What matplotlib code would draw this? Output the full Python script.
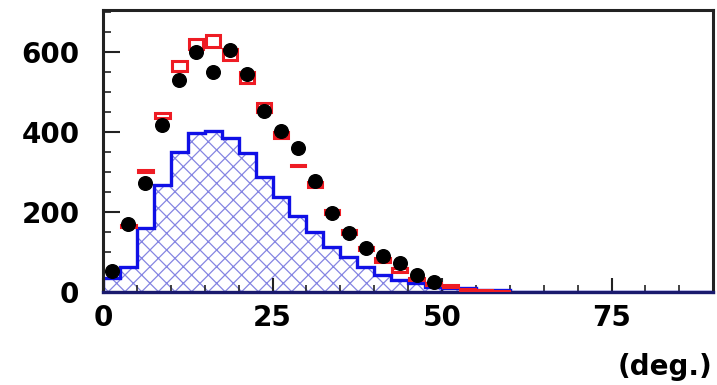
import numpy as np
import matplotlib
matplotlib.use("Agg")
import matplotlib.pyplot as plt
from matplotlib.ticker import MultipleLocator

plt.rcParams["font.family"] = ["DejaVu Sans"]
plt.rcParams["font.weight"] = "bold"
plt.rcParams["hatch.linewidth"] = 0.9

# Angular binning (degrees)
bin_width = 2.5
x_max = 90.0
bin_edges = np.arange(0.0, x_max + bin_width / 2, bin_width)
n_bins = len(bin_edges) - 1
bin_centers = 0.5 * (bin_edges[:-1] + bin_edges[1:])

# Measured counts (black points)
data_counts = [52, 170, 273, 418, 530, 600, 550, 605, 545, 452,
               402, 360, 277, 197, 148, 110, 90, 73, 43, 25]

# Simulation (red boxes): central value and half-height of the box
mc_counts = [np.nan, 165, 303, 442, 565, 620, 628, 595, 537, 462,
             392, 316, 268, 200, 150, 108, 80, 55, 32, 20,
             15, 6, 3, 2]
mc_errors = [0, 2, 2, 6, 12, 13, 14, 14, 14, 12,
             8, 2, 6, 4, 4, 4, 4, 4, 3, 3,
             2, 1, 1, 1]

# Sub-sample histogram (blue hatched)
subset_counts = [35, 62, 160, 268, 350, 397, 402, 385, 347, 288,
                 237, 191, 150, 113, 88, 63, 43, 30, 22, 13,
                 10, 10, 4, 4]

x_ticks = [0, 25, 50, 75]
x_tick_labels = ["0", "25", "50", "75"]
y_ticks = [0, 200, 400, 600]
y_tick_labels = ["0", "200", "400", "600"]

subset_full = np.zeros(n_bins)
subset_full[:len(subset_counts)] = subset_counts

fig = plt.figure(figsize=(7.17, 3.85), dpi=100)
ax = fig.add_axes([0.1437, 0.2416, 0.851, 0.732])

# hatched fill and outline of the sub-sample
ax.stairs(subset_full, bin_edges, fill=True, facecolor="white",
          edgecolor="#8585e2", hatch="xx", linewidth=0, zorder=1)
ax.stairs(subset_full, bin_edges, fill=False, edgecolor="#1010e6",
          linewidth=2.4, baseline=0, zorder=2)

# simulation error boxes
mc_vals = np.array(mc_counts, dtype=float)
mc_errs = np.array(mc_errors, dtype=float)
mc_x = bin_centers[:len(mc_vals)]
ok = ~np.isnan(mc_vals)
ax.bar(mc_x[ok], 2 * mc_errs[ok], bottom=mc_vals[ok] - mc_errs[ok],
       width=bin_width * 0.85, fill=False, edgecolor="#ee1c24",
       linewidth=2.2, zorder=3)

# data points
ax.plot(bin_centers[:len(data_counts)], data_counts, "o", color="black",
        markersize=9.8, zorder=4, clip_on=False)

ax.set_xlim(0, x_max)
ax.set_ylim(0, 705)

ax.set_xticks(x_ticks)
ax.set_xticklabels(x_tick_labels)
ax.set_yticks(y_ticks)
ax.set_yticklabels(y_tick_labels)
ax.xaxis.set_minor_locator(MultipleLocator(5))
ax.yaxis.set_minor_locator(MultipleLocator(50))

ax.tick_params(axis="both", which="both", direction="in",
               top=False, right=False, color="#222222")
ax.tick_params(axis="x", which="major", length=10, width=1.5, pad=9,
               labelsize=20)
ax.tick_params(axis="x", which="minor", length=5, width=1.2)
ax.tick_params(axis="y", which="major", length=12, width=1.5, pad=17,
               labelsize=20)
ax.tick_params(axis="y", which="minor", length=6, width=1.2)

for side in ["left", "right", "top"]:
    ax.spines[side].set_linewidth(2.2)
    ax.spines[side].set_color("#222222")
ax.spines["bottom"].set_linewidth(2.4)
ax.spines["bottom"].set_color("#1a1a6e")

fig.text(0.993, 0.026, "(deg.)", ha="right", va="baseline",
         fontsize=20, fontweight="bold")

fig.savefig("out.png", dpi=100)
